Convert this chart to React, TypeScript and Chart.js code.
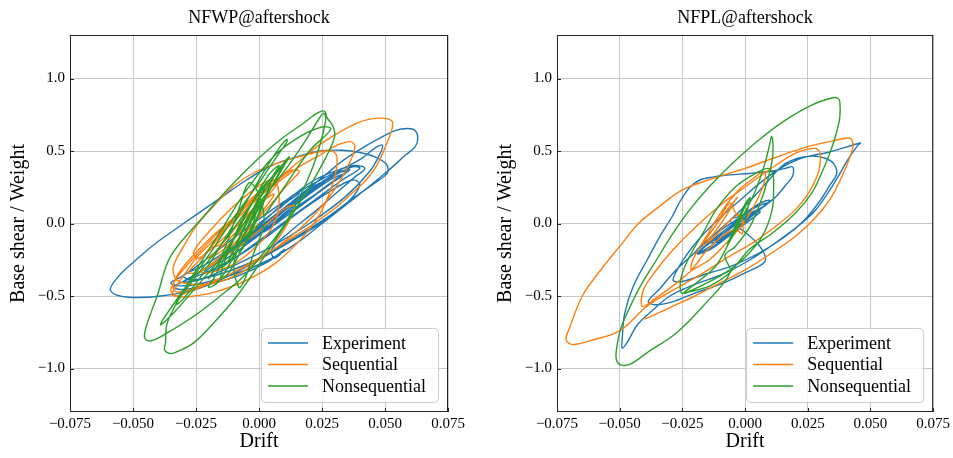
import React, { useEffect, useRef } from "react";
import { Chart, registerables } from "chart.js";

Chart.register(...registerables);

const FONT = '"Liberation Serif", "Times New Roman", Times, serif';

const seriesNames = ["Experiment", "Sequential", "Nonsequential"];
const seriesColors = ["#1f77b4", "#ff7f0e", "#2ca02c"];
const panelTitles = ["NFWP@aftershock", "NFPL@aftershock"];
const xTicks = [-0.075, -0.05, -0.025, 0, 0.025, 0.05, 0.075];
const yTicks = [-1, -0.5, 0, 0.5, 1];
const xRange = [-0.075, 0.075];
const yRange = [-1.3, 1.3];

type Pt = [number, number];

// ---------- NFWP@aftershock ----------
const nfwpExperiment: Pt[] = [
  [0.000, 0.00], [0.006, 0.08], [0.012, 0.16], [0.016, 0.21], [0.013, 0.19], [0.004, 0.05], [-0.004, -0.08], [-0.009, -0.16],
  [-0.005, -0.12], [0.004, 0.00], [0.014, 0.14], [0.022, 0.24], [0.026, 0.29], [0.021, 0.25], [0.010, 0.10], [-0.002, -0.06],
  [-0.012, -0.20], [-0.016, -0.27], [-0.011, -0.22], [0.000, -0.08], [0.012, 0.08], [0.024, 0.22], [0.032, 0.32], [0.035, 0.36],
  [0.030, 0.34], [0.018, 0.20], [0.006, 0.04], [-0.006, -0.12], [-0.016, -0.26], [-0.021, -0.33], [-0.016, -0.31], [-0.004, -0.17],
  [0.010, 0.01], [0.022, 0.16], [0.033, 0.30], [0.040, 0.38], [0.037, 0.39], [0.026, 0.29], [0.012, 0.12], [0.000, -0.04],
  [0.008, 0.02], [0.018, 0.14], [0.028, 0.27], [0.034, 0.34], [0.029, 0.31], [0.019, 0.19], [0.009, 0.05], [0.002, -0.06],
  [0.010, 0.04], [0.020, 0.17], [0.030, 0.30], [0.036, 0.37], [0.031, 0.35], [0.020, 0.21], [0.008, 0.04], [-0.004, -0.12],
  [-0.012, -0.20], [-0.024, -0.34], [-0.030, -0.40], [-0.024, -0.39], [-0.010, -0.29], [0.005, -0.16], [0.020, 0.00], [0.034, 0.18],
  [0.044, 0.36], [0.048, 0.48], [0.049, 0.54], [0.046, 0.52], [0.040, 0.44], [0.030, 0.35], [0.018, 0.24], [0.004, 0.08],
  [-0.010, -0.10], [-0.022, -0.26], [-0.031, -0.37], [-0.035, -0.41],
  [-0.031, -0.43], [-0.022, -0.41], [-0.009, -0.345], [0.004, -0.25], [0.015, -0.135], [0.025, 0.00], [0.039, 0.19], [0.051, 0.36],
  [0.058, 0.47], [0.062, 0.53], [0.063, 0.59], [0.062, 0.64], [0.059, 0.655], [0.054, 0.64], [0.047, 0.58], [0.040, 0.51],
  [0.033, 0.43], [0.026, 0.33], [0.018, 0.22], [0.008, 0.08], [-0.002, -0.05], [-0.012, -0.18], [-0.022, -0.29], [-0.030, -0.36],
  [-0.026, -0.39], [-0.014, -0.34], [-0.001, -0.25], [0.013, -0.11], [0.026, 0.03], [0.037, 0.17], [0.046, 0.28], [0.051, 0.35],
  [0.0505, 0.41], [0.046, 0.46], [0.040, 0.49], [0.033, 0.505], [0.024, 0.50], [0.015, 0.46], [0.005, 0.40], [-0.005, 0.30],
  [-0.015, 0.18], [-0.025, 0.06], [-0.034, -0.05], [-0.042, -0.15], [-0.050, -0.27], [-0.055, -0.35], [-0.059, -0.45], [-0.057, -0.49],
  [-0.050, -0.51], [-0.039, -0.50], [-0.026, -0.46], [-0.013, -0.37], [0.000, -0.25], [0.014, -0.11], [0.027, 0.03], [0.036, 0.16],
  [0.040, 0.27], [0.037, 0.30], [0.028, 0.22], [0.016, 0.08], [0.004, -0.08], [-0.008, -0.22], [-0.020, -0.33], [-0.030, -0.40],
  [-0.034, -0.44], [-0.030, -0.455], [-0.020, -0.42], [-0.008, -0.36], [0.004, -0.26], [0.010, -0.18], [0.008, -0.22], [0.006, -0.24],
  [0.005, -0.18], [0.012, -0.06], [0.022, 0.08], [0.030, 0.20], [0.038, 0.32], [0.042, 0.38], [0.038, 0.40], [0.030, 0.36],
  [0.022, 0.30], [0.014, 0.20], [0.008, 0.10],
];

const nfwpSequential: Pt[] = [
  [0.000, 0.00], [-0.004, -0.06], [-0.010, -0.14], [-0.006, -0.08], [0.002, 0.10], [0.006, 0.20], [0.002, 0.16], [-0.008, -0.04],
  [-0.016, -0.18], [-0.020, -0.24], [-0.014, -0.18], [-0.004, 0.02], [0.004, 0.20], [0.008, 0.30], [0.004, 0.28], [-0.006, 0.10],
  [-0.016, -0.10], [-0.024, -0.26], [-0.028, -0.34], [-0.022, -0.32], [-0.010, -0.14], [0.002, 0.08], [0.012, 0.28], [0.016, 0.36],
  [0.012, 0.36], [0.000, 0.18], [-0.012, -0.02], [-0.024, -0.22], [-0.030, -0.36], [-0.033, -0.44], [-0.0345, -0.49],
  [-0.0325, -0.50], [-0.0246, -0.45], [-0.014, -0.37], [-0.0036, -0.275], [0.0057, -0.18], [0.015, -0.078], [0.023, 0.014], [0.031, 0.117],
  [0.037, 0.21], [0.0425, 0.30], [0.0464, 0.39], [0.0497, 0.51], [0.0524, 0.63], [0.053, 0.70], [0.050, 0.725], [0.044, 0.72],
  [0.0386, 0.69], [0.031, 0.62], [0.023, 0.53], [0.015, 0.415], [0.007, 0.30], [-0.002, 0.17], [-0.010, 0.04], [-0.018, -0.08],
  [-0.025, -0.20], [-0.031, -0.32], [-0.034, -0.42], [-0.033, -0.47],
  [-0.028, -0.46], [-0.020, -0.41], [-0.008, -0.32], [0.004, -0.20], [0.016, -0.04], [0.026, 0.14], [0.033, 0.32], [0.037, 0.46],
  [0.038, 0.54], [0.036, 0.565], [0.031, 0.54], [0.024, 0.47], [0.015, 0.38], [0.005, 0.25], [-0.006, 0.10], [-0.016, -0.06],
  [-0.025, -0.22], [-0.032, -0.36], [-0.035, -0.46], [-0.033, -0.50],
  [-0.028, -0.505], [-0.018, -0.475], [-0.006, -0.40], [0.006, -0.28], [0.016, -0.12], [0.024, 0.06], [0.029, 0.26], [0.031, 0.42],
  [0.030, 0.49], [0.026, 0.50], [0.018, 0.47], [0.008, 0.42], [-0.002, 0.35], [-0.010, 0.26], [-0.018, 0.12], [-0.025, -0.02],
  [-0.030, -0.16], [-0.034, -0.30], [-0.033, -0.38],
  [-0.030, -0.41], [-0.022, -0.42], [-0.012, -0.38], [-0.002, -0.28], [0.006, -0.14], [0.012, 0.02], [0.014, 0.12], [0.010, 0.10],
  [0.002, -0.02], [-0.008, -0.16], [-0.018, -0.28], [-0.023, -0.33], [-0.020, -0.34], [-0.010, -0.28], [0.000, -0.14], [0.006, 0.00],
  [0.008, 0.16], [0.006, 0.30], [0.000, 0.26], [-0.010, 0.12], [-0.020, -0.06], [-0.026, -0.20], [-0.024, -0.24], [-0.014, -0.10],
  [-0.004, 0.06], [0.004, 0.20], [0.002, 0.24], [-0.006, 0.12], [-0.014, -0.04], [-0.019, -0.16], [-0.015, -0.14], [-0.007, 0.02],
  [0.000, 0.14],
];

const nfwpNonsequential: Pt[] = [
  [0.000, 0.00], [-0.004, -0.10], [-0.008, -0.20], [-0.006, -0.16], [0.000, 0.06], [0.002, 0.16], [-0.002, 0.10], [-0.008, -0.10],
  [-0.012, -0.26], [-0.010, -0.22], [-0.004, 0.00], [0.002, 0.24], [0.004, 0.30], [0.000, 0.22], [-0.008, -0.02], [-0.014, -0.28],
  [-0.015, -0.38], [-0.012, -0.34], [-0.004, -0.08], [0.002, 0.16], [0.006, 0.34], [0.008, 0.40], [0.004, 0.34], [-0.004, 0.10],
  [-0.012, -0.18], [-0.018, -0.38], [-0.020, -0.44], [-0.016, -0.40], [-0.008, -0.16], [-0.002, 0.06], [0.004, 0.22], [0.010, 0.42],
  [0.012, 0.46], [0.010, 0.40], [0.002, 0.16], [-0.006, -0.08], [-0.010, -0.28], [-0.008, -0.44], [-0.006, -0.40], [-0.002, -0.20],
  [0.002, 0.00], [0.000, 0.20], [-0.004, 0.28], [-0.008, 0.10], [-0.012, -0.10], [-0.016, -0.30], [-0.013, -0.28], [-0.006, -0.04],
  [0.000, 0.18],
  [-0.004, -0.06], [-0.014, -0.22], [-0.024, -0.42], [-0.033, -0.60], [-0.039, -0.70], [-0.038, -0.66], [-0.030, -0.46], [-0.020, -0.22],
  [-0.010, 0.04], [0.000, 0.28], [0.007, 0.46], [0.011, 0.56], [0.011, 0.58], [0.008, 0.52], [0.002, 0.36], [-0.006, 0.12],
  [-0.014, -0.12], [-0.022, -0.34], [-0.030, -0.52], [-0.033, -0.56],
  [-0.031, -0.50], [-0.022, -0.30], [-0.012, -0.08], [-0.002, 0.16], [0.006, 0.34], [0.011, 0.44], [0.012, 0.46], [0.009, 0.40],
  [0.002, 0.22], [-0.006, 0.00], [-0.014, -0.22], [-0.020, -0.38], [-0.017, -0.30],
  [-0.010, -0.10], [0.000, 0.14], [0.010, 0.36], [0.018, 0.56], [0.023, 0.70], [0.0255, 0.76], [0.0265, 0.725], [0.0247, 0.576],
  [0.0214, 0.392], [0.0162, 0.186], [0.0096, -0.02], [0.0017, -0.204], [-0.0062, -0.365], [-0.0154, -0.50], [-0.0259, -0.64], [-0.0364, -0.755],
  [-0.043, -0.81], [-0.0454, -0.789], [-0.0443, -0.686], [-0.0404, -0.50], [-0.0351, -0.227], [-0.022, 0.048], [-0.0114, 0.255], [-0.0009, 0.438],
  [0.0083, 0.576], [0.0175, 0.69], [0.0234, 0.764], [0.026, 0.775], [0.027, 0.73],
  [0.0293, 0.672], [0.030, 0.60], [0.0267, 0.461], [0.0201, 0.255], [0.0109, 0.002], [0.0004, -0.273], [-0.0088, -0.502], [-0.018, -0.686],
  [-0.0259, -0.823], [-0.032, -0.88], [-0.0351, -0.897], [-0.0375, -0.87], [-0.0371, -0.823], [-0.0364, -0.686], [-0.0312, -0.502], [-0.0233, -0.273],
  [-0.0141, -0.021], [-0.0049, 0.232], [0.0057, 0.461], [0.0162, 0.599], [0.0254, 0.667], [0.0285, 0.65], [0.020, 0.50], [0.010, 0.25],
  [0.002, 0.05],
];

// ---------- NFPL@aftershock ----------
const nfplExperiment: Pt[] = [
  [0.000, 0.00], [-0.006, -0.06], [-0.012, -0.12], [-0.008, -0.09], [0.000, 0.02], [0.006, 0.10], [0.002, 0.07], [-0.008, -0.06],
  [-0.016, -0.16], [-0.018, -0.20], [-0.012, -0.15], [-0.002, -0.02], [0.006, 0.10], [0.010, 0.16], [0.006, 0.14], [-0.004, 0.02],
  [-0.014, -0.10], [-0.020, -0.20], [-0.017, -0.19], [-0.006, -0.06], [0.004, 0.08], [0.009, 0.14], [0.004, 0.11], [-0.006, -0.02],
  [-0.015, -0.14], [-0.019, -0.21], [-0.013, -0.17], [-0.003, -0.04], [0.006, 0.08], [0.003, 0.07], [-0.007, -0.05], [-0.014, -0.13],
  [-0.010, -0.12], [-0.001, 0.00], [0.007, 0.11], [0.012, 0.18],
  [0.016, 0.26], [0.019, 0.33], [0.019, 0.39], [0.016, 0.38], [0.010, 0.36], [0.002, 0.345], [-0.006, 0.335], [-0.013, 0.32],
  [-0.018, 0.30], [-0.022, 0.25], [-0.026, 0.15], [-0.029, 0.05], [-0.034, -0.09], [-0.039, -0.25], [-0.0445, -0.43], [-0.048, -0.62],
  [-0.049, -0.80], [-0.049, -0.86], [-0.047, -0.82], [-0.043, -0.70], [-0.037, -0.60], [-0.030, -0.50], [-0.020, -0.42], [-0.009, -0.35],
  [0.002, -0.25], [0.012, -0.135], [0.021, -0.02], [0.028, 0.09], [0.033, 0.21], [0.037, 0.32], [0.041, 0.44], [0.045, 0.54],
  [0.046, 0.555], [0.041, 0.53], [0.033, 0.49], [0.027, 0.47], [0.021, 0.44], [0.014, 0.38], [0.006, 0.28], [-0.002, 0.16],
  [-0.010, 0.04], [-0.018, -0.10], [-0.025, -0.26], [-0.0287, -0.39], [-0.025, -0.40], [-0.016, -0.35], [-0.005, -0.29], [0.006, -0.20],
  [0.016, -0.09], [0.024, 0.03], [0.030, 0.16], [0.034, 0.27], [0.0365, 0.34], [0.0355, 0.41], [0.032, 0.45], [0.027, 0.465],
  [0.021, 0.45], [0.015, 0.40], [0.008, 0.27], [0.000, 0.12], [-0.010, -0.04], [-0.020, -0.20], [-0.028, -0.33], [-0.034, -0.45],
  [-0.0386, -0.537], [-0.036, -0.56], [-0.029, -0.54], [-0.020, -0.48], [-0.010, -0.42], [0.000, -0.34], [0.008, -0.26], [0.006, -0.16],
  [0.000, -0.06], [-0.006, 0.02], [0.000, 0.06],
];

const nfplSequential: Pt[] = [
  [0.000, 0.00], [-0.004, 0.08], [-0.006, 0.14], [-0.008, 0.10], [-0.012, -0.02], [-0.016, -0.12], [-0.014, -0.10], [-0.008, 0.04],
  [-0.004, 0.16], [-0.003, 0.18], [-0.006, 0.12], [-0.012, -0.02], [-0.017, -0.14], [-0.014, -0.12], [-0.006, 0.02], [-0.002, 0.06],
  [-0.001, -0.07], [-0.004, -0.04], [-0.010, -0.10], [-0.016, -0.20],
  [-0.0214, -0.32], [-0.0208, -0.25], [-0.0155, -0.09], [-0.0089, 0.094], [-0.0024, 0.232], [0.0042, 0.323], [0.0075, 0.358], [0.0082, 0.323],
  [0.0055, 0.186], [0.0003, 0.025], [-0.0063, -0.112], [-0.0142, -0.25], [-0.0208, -0.319],
  [-0.028, -0.42], [-0.036, -0.52], [-0.041, -0.571],
  [-0.0405, -0.456], [-0.0353, -0.319], [-0.0287, -0.181], [-0.0195, -0.021], [-0.0089, 0.14], [0.0003, 0.255], [0.0095, 0.369], [0.020, 0.484],
  [0.0279, 0.518], [0.030, 0.484], [0.030, 0.438], [0.0292, 0.346], [0.0253, 0.209], [0.020, 0.094], [0.0121, -0.021], [0.0029, -0.135],
  [-0.0063, -0.227], [-0.0168, -0.342], [-0.026, -0.433], [-0.0353, -0.525], [-0.040, -0.583],
  [-0.050, -0.74], [-0.060, -0.80], [-0.0688, -0.835], [-0.0714, -0.80], [-0.070, -0.72], [-0.0649, -0.50], [-0.058, -0.33], [-0.050, -0.158],
  [-0.0425, 0.0], [-0.034, 0.12], [-0.025, 0.232], [-0.013, 0.31], [0.000, 0.38], [0.012, 0.455], [0.025, 0.53], [0.035, 0.57],
  [0.041, 0.59], [0.0425, 0.58], [0.043, 0.53], [0.041, 0.42], [0.038, 0.30], [0.034, 0.17], [0.028, 0.04], [0.020, -0.09],
  [0.010, -0.21], [0.000, -0.32], [-0.010, -0.41], [-0.020, -0.50], [-0.030, -0.58], [-0.040, -0.66],
];

const nfplNonsequential: Pt[] = [
  [0.000, 0.00], [0.001, 0.10], [0.002, 0.18], [0.000, 0.12], [-0.004, -0.04], [-0.007, -0.14], [-0.006, -0.12], [-0.002, 0.04],
  [0.001, 0.16], [-0.001, 0.10], [-0.005, -0.06], [-0.006, -0.10], [-0.002, 0.02], [0.000, 0.08],
  [0.004, 0.22], [0.008, 0.42], [0.010, 0.56], [0.0105, 0.60], [0.011, 0.58], [0.011, 0.46], [0.009, 0.30], [0.006, 0.14],
  [0.002, -0.02], [-0.004, -0.16], [-0.008, -0.22], [-0.006, -0.34],
  [-0.0168, -0.571], [-0.0274, -0.755], [-0.039, -0.89], [-0.0458, -0.97], [-0.0497, -0.975], [-0.0513, -0.94], [-0.0513, -0.87], [-0.0497, -0.732],
  [-0.0464, -0.594], [-0.0418, -0.433], [-0.0353, -0.25], [-0.0287, -0.067], [-0.0221, 0.094], [-0.0142, 0.255], [-0.005, 0.415], [0.0055, 0.576],
  [0.0161, 0.713], [0.0266, 0.817], [0.0351, 0.867], [0.0371, 0.862], [0.0378, 0.84], [0.0378, 0.736], [0.0364, 0.622], [0.0338, 0.484],
  [0.0305, 0.346], [0.0266, 0.209], [0.020, 0.071], [0.0108, -0.067], [0.0016, -0.181], [-0.0063, -0.342],
  [-0.014, -0.43], [-0.022, -0.47], [-0.0254, -0.479], [-0.0254, -0.365], [-0.0221, -0.227], [-0.0168, -0.067], [-0.0116, 0.094], [-0.0037, 0.255],
  [0.0042, 0.346], [0.0095, 0.38], [0.0112, 0.33], [0.0114, 0.255], [0.0108, 0.094], [0.0068, -0.089], [-0.001, -0.25], [-0.0103, -0.365],
  [-0.0195, -0.445], [-0.0245, -0.48], [-0.012, -0.30], [-0.006, -0.12], [-0.002, 0.00],
];

const panelData: Pt[][][] = [
  [nfwpExperiment, nfwpSequential, nfwpNonsequential],
  [nfplExperiment, nfplSequential, nfplNonsequential],
];

const fmt = (v: number, digits: number) => {
  const s = Math.abs(v) < 1e-9 ? (0).toFixed(digits) : v.toFixed(digits);
  return s.replace("-", "\u2212");
};

const framePlugin = {
  id: "frameAndLegend",
  afterDraw(chart: any) {
    const { ctx, chartArea: a, scales } = chart;
    ctx.save();
    // inward ticks
    ctx.strokeStyle = "#222222";
    ctx.lineWidth = 1;
    ctx.beginPath();
    for (const v of xTicks) {
      const x = Math.round(scales.x.getPixelForValue(v)) + 0.5;
      ctx.moveTo(x, a.bottom);
      ctx.lineTo(x, a.bottom - 4);
    }
    for (const v of yTicks) {
      const y = Math.round(scales.y.getPixelForValue(v)) + 0.5;
      ctx.moveTo(a.left, y);
      ctx.lineTo(a.left + 4, y);
    }
    ctx.stroke();
    // frame
    ctx.strokeStyle = "#222222";
    ctx.lineWidth = 1;
    ctx.strokeRect(a.left + 0.5, a.top + 0.5, a.right - a.left - 1, a.bottom - a.top - 1);
    // legend
    const w = 177;
    const h = 74;
    const bx = a.right - 10 - w;
    const by = a.bottom - 10 - h;
    ctx.beginPath();
    ctx.roundRect(bx + 0.5, by + 0.5, w, h, 4);
    ctx.fillStyle = "rgba(255,255,255,0.8)";
    ctx.fill();
    ctx.strokeStyle = "#cccccc";
    ctx.stroke();
    ctx.font = `18px ${FONT}`;
    ctx.textBaseline = "middle";
    ctx.textAlign = "left";
    chart.data.datasets.forEach((ds: any, i: number) => {
      const ry = by + 15 + i * 21.5;
      ctx.strokeStyle = ds.borderColor;
      ctx.lineWidth = 1.5;
      ctx.beginPath();
      ctx.moveTo(bx + 7, ry);
      ctx.lineTo(bx + 47, ry);
      ctx.stroke();
      ctx.fillStyle = "#000000";
      ctx.fillText(ds.label, bx + 61, ry + 1);
    });
    ctx.restore();
  },
};

function Panel({ left, width, padRight, title, series }: { left: number; width: number; padRight: number; title: string; series: Pt[][] }) {
  const ref = useRef<HTMLCanvasElement>(null);
  useEffect(() => {
    const chart = new Chart(ref.current as HTMLCanvasElement, {
      type: "scatter",
      data: {
        datasets: series.map((pts, i) => ({
          label: seriesNames[i],
          data: pts.map(([x, y]) => ({ x, y })),
          showLine: true,
          borderColor: seriesColors[i],
          backgroundColor: seriesColors[i],
          borderWidth: 1.4,
          pointRadius: 0,
          pointHoverRadius: 0,
          tension: 0.35,
          fill: false,
          order: 2 - i,
        })),
      },
      options: {
        animation: false,
        responsive: false,
        maintainAspectRatio: false,
        events: [],
        layout: { padding: { left: 0, right: padRight, top: 0, bottom: 0 } },
        plugins: {
          legend: { display: false },
          tooltip: { enabled: false },
          title: {
            display: true,
            text: title,
            fullSize: false,
            color: "#000000",
            font: { family: FONT, size: 18, weight: "normal" },
            padding: { top: 7, bottom: 6.4 },
          },
        },
        scales: {
          x: {
            type: "linear",
            min: xRange[0],
            max: xRange[1],
            afterBuildTicks: (s: any) => {
              s.ticks = xTicks.map((v) => ({ value: v }));
            },
            afterFit: (s: any) => {
              s.height = 46;
            },
            ticks: {
              callback: (v: any) => fmt(Number(v), 3),
              color: "#000000",
              font: { family: FONT, size: 15 },
              padding: 3,
              maxRotation: 0,
              autoSkip: false,
            },
            grid: { color: "#c8c8c8", lineWidth: 1, drawTicks: false },
            border: { display: false },
            title: {
              display: true,
              text: "Drift",
              color: "#000000",
              font: { family: FONT, size: 20 },
              padding: { top: 0, bottom: 4 },
            },
          },
          y: {
            type: "linear",
            min: yRange[0],
            max: yRange[1],
            afterBuildTicks: (s: any) => {
              s.ticks = yTicks.map((v) => ({ value: v }));
            },
            afterFit: (s: any) => {
              s.width = 70;
            },
            ticks: {
              callback: (v: any) => fmt(Number(v), 1),
              color: "#000000",
              font: { family: FONT, size: 15 },
              padding: 5,
              autoSkip: false,
            },
            grid: { color: "#c8c8c8", lineWidth: 1, drawTicks: false },
            border: { display: false },
            title: {
              display: true,
              text: "Base shear / Weight",
              color: "#000000",
              font: { family: FONT, size: 20 },
              padding: { top: 7, bottom: 0 },
            },
          },
        },
      } as any,
      plugins: [framePlugin],
    });
    return () => chart.destroy();
  }, []);
  return (
    <canvas
      ref={ref}
      width={width}
      height={458}
      style={{ position: "absolute", left, top: 0, width, height: 458 }}
    />
  );
}

export default function App() {
  return (
    <div style={{ position: "absolute", left: 0, top: 0, width: 953, height: 458, background: "#ffffff", overflow: "hidden" }}>
      <Panel left={0} width={476} padRight={28} title={panelTitles[0]} series={panelData[0]} />
      <Panel left={487} width={466} padRight={18} title={panelTitles[1]} series={panelData[1]} />
    </div>
  );
}
